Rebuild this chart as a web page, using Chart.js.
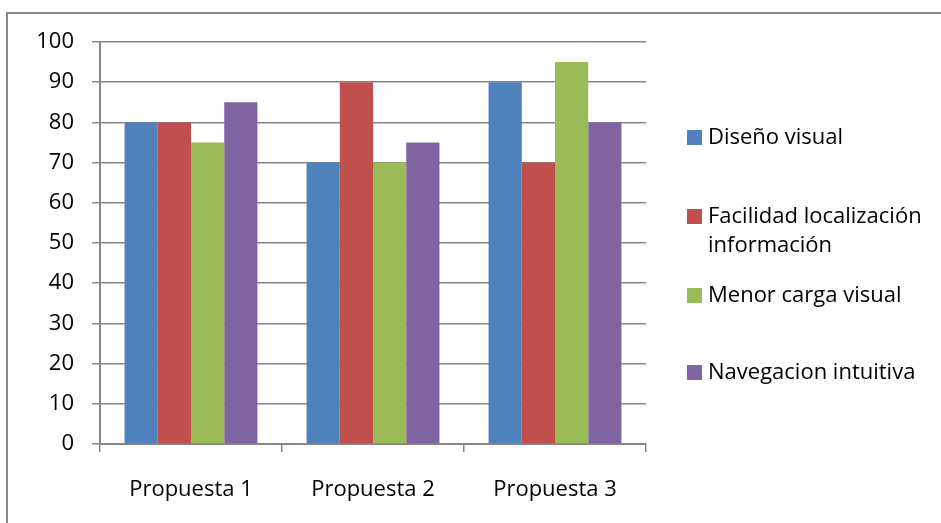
<!DOCTYPE html>
<html>
<head>
<meta charset="utf-8">
<script src="https://cdn.jsdelivr.net/npm/chart.js@4"></script>
<style>
  html, body { margin: 0; padding: 0; background: #fff; }
  #wrap { position: relative; width: 941px; height: 523px; overflow: hidden; }
  #frame { position: absolute; left: 6px; top: 12px; width: 1000px; height: 600px; border: 2px solid #878787; box-sizing: border-box; }
  canvas { position: absolute; left: 0; top: 0; }
</style>
</head>
<body>
<div id="wrap">
  <div id="frame"></div>
  <canvas id="chart" width="941" height="523"></canvas>
</div>
<script>
const categories = [`Propuesta 1`, `Propuesta 2`, `Propuesta 3`]
const seriesNames = [`Diseño visual`, `Facilidad localización información`, `Menor carga visual`, `Navegacion intuitiva`]
const disenoVisual = [80, 70, 90]
const facilidadLocalizacion = [80, 90, 70]
const menorCarga = [75, 70, 95]
const navegacionIntuitiva = [85, 75, 80]
const colors = [`#4F81BD`, `#C0504D`, `#9BBB59`, `#8064A2`]

const FONT = `"Open Sans", Lato, sans-serif`
const GRID = `#868686`

//  Legend drawn on the right, wrapping the long label on two lines
const sideLegend = {
	id: `sideLegend`,
	afterDraw(chart) {
		const ctx = chart.ctx
		const rows = [
			{y: 137, lines: [`Diseño visual`]},
			{y: 216, lines: [`Facilidad localización`, `información`]},
			{y: 295, lines: [`Menor carga visual`]},
			{y: 372, lines: [`Navegacion intuitiva`]}
		]
		ctx.save()
		ctx.font = `22px ${FONT}`
		ctx.textBaseline = `middle`
		chart.data.datasets.forEach((ds, i) => {
			const row = rows[i]
			ctx.fillStyle = ds.backgroundColor
			ctx.fillRect(687, row.y - 7, 15, 15)
			ctx.fillStyle = `#000`
			row.lines.forEach((txt, j) => ctx.fillText(txt, 708, row.y + 1 + j * 29))
		})
		ctx.restore()
	}
}

const seriesData = [disenoVisual, facilidadLocalizacion, menorCarga, navegacionIntuitiva]

new Chart(document.getElementById(`chart`), {
	type: `bar`,
	data: {
		labels: categories,
		datasets: seriesNames.map((name, i) => ({
			label: name,
			data: seriesData[i],
			backgroundColor: colors[i],
			borderWidth: 0,
			categoryPercentage: 0.73,
			barPercentage: 1
		}))
	},
	options: {
		responsive: false,
		animation: false,
		layout: { padding: { top: 42, right: 295, left: 0, bottom: 0 } },
		plugins: { legend: { display: false }, tooltip: { enabled: false } },
		scales: {
			x: {
				grid: { display: true, drawOnChartArea: false, color: GRID, tickLength: 8, lineWidth: 1.5 },
				border: { color: GRID, width: 2 },
				ticks: { color: `#000`, font: { family: FONT, size: 22 }, padding: 25 },
				afterFit(scale) { scale.height = 523 - 444 }
			},
			y: {
				min: 0,
				max: 100,
				ticks: { stepSize: 10, color: `#000`, font: { family: FONT, size: 22 }, padding: 18 },
				grid: { color: GRID, tickLength: 8, lineWidth: 1.5 },
				border: { color: GRID, width: 2 },
				afterFit(scale) { scale.width = 100 }
			}
		}
	},
	plugins: [sideLegend]
})
</script>
</body>
</html>
